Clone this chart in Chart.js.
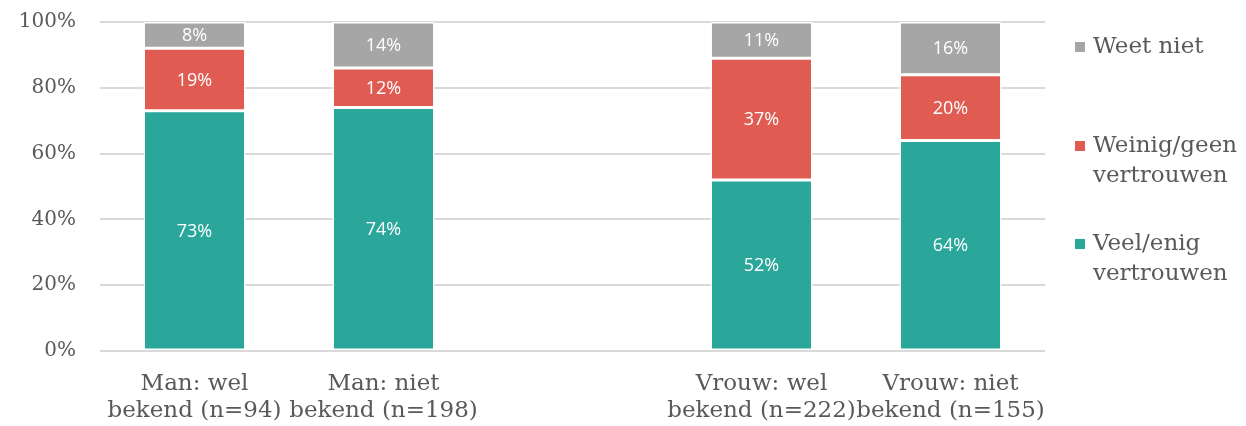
<!DOCTYPE html>
<html>
<head>
<meta charset="utf-8">
<script src="https://cdn.jsdelivr.net/npm/chart.js@4"></script>
<style>
html,body{margin:0;padding:0;background:#fff;overflow:hidden;}
#wrap{width:1246px;height:426px;position:relative;}
canvas{display:block;}
</style>
</head>
<body>
<div id="wrap"><canvas id="c" width="1246" height="426"></canvas></div>
<script>
const categories = [["Man: wel","bekend (n=94)"],["Man: niet","bekend (n=198)"],"",["Vrouw: wel","bekend (n=222)"],["Vrouw: niet","bekend (n=155)"]];
const seriesNames = ["Veel/enig vertrouwen","Weinig/geen vertrouwen","Weet niet"];
const legendLines = [["Veel/enig","vertrouwen"],["Weinig/geen","vertrouwen"],["Weet niet"]];
const veelEnig = [73, 74, null, 52, 64];
const weinigGeen = [19, 12, null, 37, 20];
const weetNiet = [8, 14, null, 11, 16];
const yTicks = [0, 20, 40, 60, 80, 100];
const colors = ["#2aa69a", "#e05c52", "#a6a6a6"];

const serif = "'DejaVu Serif', 'Liberation Serif', serif";
const sans = "'Open Sans', Roboto, sans-serif";

const labelPlugin = {
  id: 'segLabels',
  afterDatasetsDraw(chart) {
    const ctx = chart.ctx;
    ctx.save();
    ctx.fillStyle = '#ffffff';
    ctx.font = "18px " + sans;
    ctx.textAlign = 'center';
    ctx.textBaseline = 'middle';
    chart.data.datasets.forEach((ds, di) => {
      const meta = chart.getDatasetMeta(di);
      meta.data.forEach((el, i) => {
        const v = ds.data[i];
        if (v == null) return;
        const cy = (el.y + el.base) / 2;
        ctx.fillText(v + '%', el.x, cy + 1);
      });
    });
    ctx.restore();
  }
};

const legendPlugin = {
  id: 'customLegend',
  afterDraw(chart) {
    const ctx = chart.ctx;
    ctx.save();
    ctx.font = "23px " + serif;
    ctx.textBaseline = 'middle';
    ctx.textAlign = 'left';
    const entries = [
      {idx: 2, y: 47},
      {idx: 1, y: 146},
      {idx: 0, y: 244}
    ];
    entries.forEach(e => {
      ctx.fillStyle = colors[e.idx];
      ctx.fillRect(1075, e.y - 5, 10, 10);
      ctx.fillStyle = '#595959';
      legendLines[e.idx].forEach((line, k) => {
        ctx.fillText(line, 1093, e.y + k * 30);
      });
    });
    ctx.restore();
  }
};

new Chart(document.getElementById('c'), {
  type: 'bar',
  data: {
    labels: categories,
    datasets: [
      {label: seriesNames[0], data: veelEnig, backgroundColor: colors[0]},
      {label: seriesNames[1], data: weinigGeen, backgroundColor: colors[1]},
      {label: seriesNames[2], data: weetNiet, backgroundColor: colors[2]}
    ].map(d => Object.assign(d, {borderColor: '#ffffff', borderWidth: 1.5, borderSkipped: false, categoryPercentage: 1, barPercentage: 0.54}))
  },
  options: {
    responsive: false,
    animation: false,
    devicePixelRatio: 1,
    layout: {padding: {top: 22, right: 201, bottom: 0, left: 0}},
    plugins: {legend: {display: false}, tooltip: {enabled: false}},
    scales: {
      x: {
        stacked: true,
        grid: {display: false, drawTicks: false},
        border: {display: false},
        ticks: {color: '#595959', font: {family: serif, size: 23, lineHeight: 1.18}, padding: 19, maxRotation: 0, autoSkip: false},
        afterFit(s) { s.height = 75; s.paddingLeft = 0; s.paddingRight = 0; }
      },
      y: {
        stacked: true,
        min: 0, max: 100,
        afterBuildTicks(s) { s.ticks = yTicks.map(v => ({value: v})); },
        grid: {color: '#d9d9d9', lineWidth: 2, drawTicks: false},
        border: {display: false},
        ticks: {color: '#595959', font: {family: serif, size: 20}, padding: 24, callback: v => v + '%'},
        afterFit(s) { s.width = 100; s.paddingTop = 0; s.paddingBottom = 0; }
      }
    }
  },
  plugins: [labelPlugin, legendPlugin]
});
</script>
</body>
</html>
